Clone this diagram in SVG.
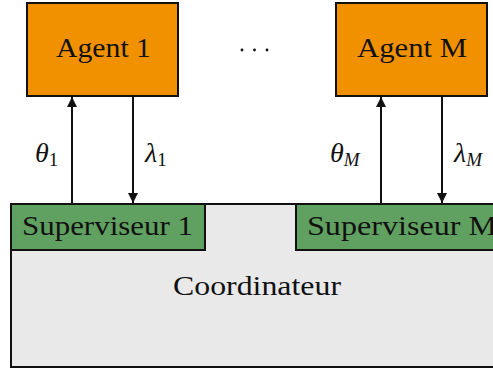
<svg xmlns="http://www.w3.org/2000/svg" width="493" height="372" viewBox="0 0 493 372">
<style>
  .box{stroke:#111;stroke-width:2}
  .agent{fill:#F29100}
  .sup{fill:#60A060}
  .coord{fill:#E9E9E9}
  .conn{stroke:#111;stroke-width:2;fill:none}
</style>
<defs>
  <marker id="arr" viewBox="0 0 10 10" refX="10" refY="5" markerWidth="5" markerHeight="5" orient="auto" markerUnits="strokeWidth">
    <path d="M0,0 L10,5 L0,10 Z" fill="#111"/>
  </marker>
</defs>
<rect width="493" height="372" fill="#fff"/>
<g id="coordinateur">
  <rect class="box coord" x="11" y="204" width="490" height="163"/>
  <text font-family="'Liberation Serif', serif" font-size="28" fill="#111" x="257" y="295" text-anchor="middle" textLength="168" lengthAdjust="spacingAndGlyphs">Coordinateur</text>
</g>
<g id="superviseur1">
  <rect class="box sup" x="11" y="204" width="194" height="46"/>
  <text font-family="'Liberation Serif', serif" font-size="28" fill="#111" x="22" y="235" textLength="171" lengthAdjust="spacingAndGlyphs">Superviseur 1</text>
</g>
<g id="superviseurM">
  <rect class="box sup" x="296" y="204" width="210" height="46"/>
  <text font-family="'Liberation Serif', serif" font-size="28" fill="#111" x="307" y="235" textLength="190" lengthAdjust="spacingAndGlyphs">Superviseur M</text>
</g>
<g id="agent1">
  <rect class="box agent" x="27" y="3" width="151" height="93"/>
  <text font-family="'Liberation Serif', serif" font-size="28" fill="#111" x="103.5" y="57" text-anchor="middle" textLength="95" lengthAdjust="spacingAndGlyphs">Agent 1</text>
</g>
<g id="dots">
  <circle cx="242" cy="50" r="1.4" fill="#111"/>
  <circle cx="254.5" cy="50" r="1.4" fill="#111"/>
  <circle cx="267" cy="50" r="1.4" fill="#111"/>
</g>
<g id="agentM">
  <rect class="box agent" x="336" y="3" width="151" height="93"/>
  <text font-family="'Liberation Serif', serif" font-size="28" fill="#111" x="412" y="57" text-anchor="middle" textLength="110" lengthAdjust="spacingAndGlyphs">Agent M</text>
</g>
<g id="connectors">
  <line class="conn" x1="72" y1="204" x2="72" y2="97" marker-end="url(#arr)"/>
  <line class="conn" x1="133" y1="96" x2="133" y2="203" marker-end="url(#arr)"/>
  <line class="conn" x1="381" y1="204" x2="381" y2="97" marker-end="url(#arr)"/>
  <line class="conn" x1="442" y1="96" x2="442" y2="203" marker-end="url(#arr)"/>
  <text font-family="'Liberation Serif', serif" font-size="28" font-style="italic" fill="#111" x="35" y="162">θ<tspan font-size="19" font-style="normal" dy="4">1</tspan></text>
  <text font-family="'Liberation Serif', serif" font-size="28" font-style="italic" fill="#111" x="145" y="162">λ<tspan font-size="19" font-style="normal" dy="4">1</tspan></text>
  <text font-family="'Liberation Serif', serif" font-size="28" font-style="italic" fill="#111" x="330" y="162">θ<tspan font-size="19" dy="4">M</tspan></text>
  <text font-family="'Liberation Serif', serif" font-size="28" font-style="italic" fill="#111" x="454" y="162">λ<tspan font-size="19" dy="4">M</tspan></text>
</g>
</svg>
